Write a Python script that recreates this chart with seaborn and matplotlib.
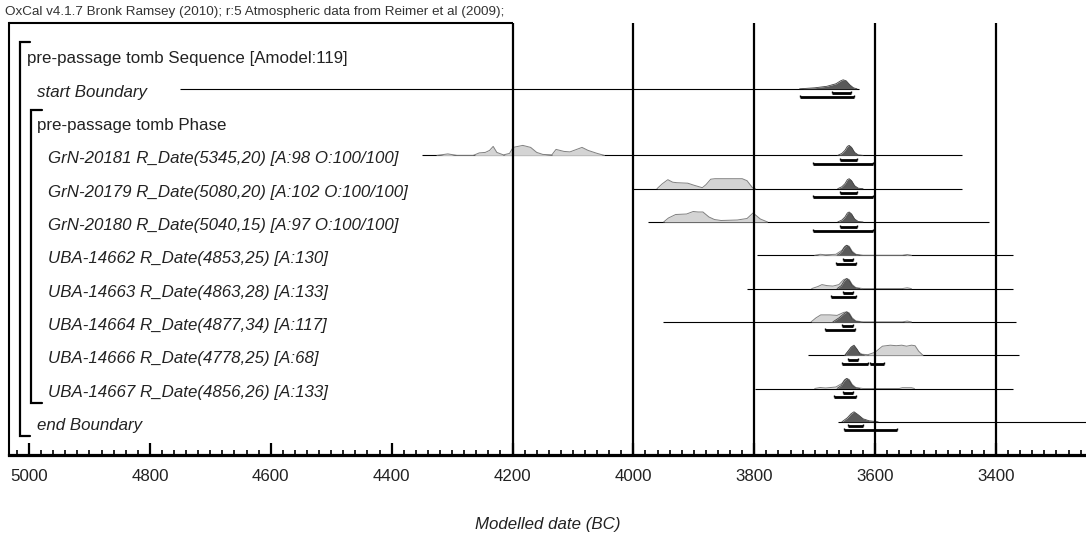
import numpy as np
import matplotlib
matplotlib.use("Agg")
import matplotlib.pyplot as plt
import matplotlib.transforms as mtransforms
import seaborn as sns

# ---------------- data ----------------
title_text = "OxCal v4.1.7 Bronk Ramsey (2010); r:5 Atmospheric data from Reimer et al (2009);"
xlabel_text = "Modelled date (BC)"
sequence_label = "pre-passage tomb Sequence [Amodel:119]"
phase_label = "pre-passage tomb Phase"

row_labels = [
    "start Boundary",
    "GrN-20181 R_Date(5345,20) [A:98 O:100/100]",
    "GrN-20179 R_Date(5080,20) [A:102 O:100/100]",
    "GrN-20180 R_Date(5040,15) [A:97 O:100/100]",
    "UBA-14662 R_Date(4853,25) [A:130]",
    "UBA-14663 R_Date(4863,28) [A:133]",
    "UBA-14664 R_Date(4877,34) [A:117]",
    "UBA-14666 R_Date(4778,25) [A:68]",
    "UBA-14667 R_Date(4856,26) [A:133]",
    "end Boundary",
]

# extent of each distribution's baseline (BC)
line_from = [4750, 4350, 4001, 3976, 3796, 3812, 3951, 3711, 3799, 3661]
line_to = [3627, 3456, 3456, 3412, 3372, 3372, 3367, 3362, 3372, 3251]

# unmodelled likelihoods (year BC, relative height)
like_start_x, like_start_h = [], []
like_grn20181_x = [4325, 4307, 4292, 4265, 4255, 4245, 4238, 4232, 4226, 4215, 4205, 4199, 4183, 4170,
                   4160, 4150, 4135, 4128, 4115, 4105, 4085, 4075, 4060, 4048]
like_grn20181_h = [0, 1.5, 0, 0, 2.5, 3, 5, 9, 3, 0.5, 2, 8, 10, 8, 3, 1, 0.5, 6, 4, 3.5, 8, 5, 2, 0]
like_grn20179_x = [3961, 3952, 3943, 3935, 3928, 3910, 3900, 3886, 3880, 3872, 3865, 3820, 3812, 3803, 3798]
like_grn20179_h = [0, 5, 9, 6.5, 6, 5.5, 3.5, 1, 4, 9.5, 10, 10, 8, 1, 0]
like_grn20180_x = [3950, 3942, 3930, 3912, 3901, 3893, 3885, 3875, 3866, 3855, 3828, 3812, 3802, 3790, 3778]
like_grn20180_h = [0, 4, 7.5, 8, 10.5, 10, 10, 5, 2.5, 1.5, 2, 3.5, 9, 3, 0]
like_uba14662_x = [3700, 3691, 3682, 3665, 3655, 3650, 3647, 3643, 3638, 3632, 3620, 3555, 3547, 3540]
like_uba14662_h = [0, 1, 0.5, 1, 5, 9, 10, 9, 4, 1, 0, 0, 0.8, 0]
like_uba14663_x = [3705, 3695, 3688, 3680, 3670, 3660, 3652, 3647, 3643, 3638, 3632, 3620, 3555, 3547, 3540]
like_uba14663_h = [0, 2, 4, 3, 2.5, 4, 9, 10, 9, 4, 1, 0, 0, 0.8, 0]
like_uba14664_x = [3706, 3698, 3690, 3675, 3663, 3652, 3647, 3643, 3638, 3632, 3620, 3555, 3547, 3540]
like_uba14664_h = [0, 4, 7, 7, 6.5, 9.5, 10, 9, 4, 1, 0, 0, 0.8, 0]
like_uba14666_x = [3650, 3643, 3637, 3630, 3622, 3612, 3600, 3588, 3575, 3565, 3556, 3548, 3540, 3534, 3528, 3521]
like_uba14666_h = [0, 5, 9, 4, 1, 0.5, 3, 9, 10, 9.5, 10, 9, 10, 9.5, 4, 0]
like_uba14667_x = [3700, 3691, 3682, 3665, 3655, 3650, 3647, 3643, 3638, 3632, 3620, 3560, 3555, 3540, 3535]
like_uba14667_h = [0, 1, 0.5, 1.5, 5, 9, 10, 9, 4, 1, 0, 0, 0.8, 0.8, 0]
like_end_x, like_end_h = [], []

# modelled posteriors (year BC, relative height)
post_start_x = [3725, 3700, 3680, 3665, 3657, 3653, 3648, 3642, 3636, 3630]
post_start_h = [0, 1, 2.5, 5, 8, 9, 8, 4, 1, 0]
post_grn20181_x = [3662, 3655, 3650, 3646, 3643, 3639, 3634, 3628, 3620]
post_grn20181_h = [0, 2, 5, 9, 10, 8, 3, 0.5, 0]
post_grn20179_x = [3662, 3655, 3650, 3646, 3643, 3639, 3634, 3628, 3620]
post_grn20179_h = [0, 2, 5, 9, 10, 8, 3, 0.5, 0]
post_grn20180_x = [3662, 3655, 3650, 3646, 3643, 3639, 3634, 3628, 3620]
post_grn20180_h = [0, 2, 5, 9, 10, 8, 3, 0.5, 0]
post_uba14662_x = [3663, 3656, 3651, 3647, 3643, 3638, 3632, 3625]
post_uba14662_h = [0, 3, 8, 10, 8, 3, 0.5, 0]
post_uba14663_x = [3663, 3656, 3651, 3647, 3643, 3638, 3632, 3625]
post_uba14663_h = [0, 3, 8, 10, 8, 3, 0.5, 0]
post_uba14664_x = [3670, 3660, 3652, 3647, 3643, 3638, 3632, 3625]
post_uba14664_h = [0, 4, 8, 10, 8, 3, 0.5, 0]
post_uba14666_x = [3650, 3645, 3640, 3635, 3630, 3625, 3618]
post_uba14666_h = [0, 4, 8, 10, 6, 1, 0]
post_uba14667_x = [3663, 3656, 3651, 3647, 3643, 3638, 3632, 3625]
post_uba14667_h = [0, 3, 8, 10, 8, 3, 0.5, 0]
post_end_x = [3655, 3646, 3640, 3635, 3628, 3620, 3610, 3595]
post_end_h = [0, 4, 8, 10, 7, 3, 1, 0]

# highest posterior density ranges (from, to) BC
r68_ranges = [
    [(3671, 3640)], [(3658, 3630)], [(3658, 3630)], [(3658, 3630)], [(3653, 3637)],
    [(3653, 3637)], [(3655, 3637)], [(3645, 3628)], [(3653, 3637)], [(3645, 3620)],
]
r95_ranges = [
    [(3724, 3635)], [(3703, 3604)], [(3703, 3604)], [(3703, 3604)], [(3665, 3632)],
    [(3673, 3632)], [(3683, 3633)], [(3655, 3612), (3609, 3585)], [(3668, 3632)], [(3652, 3564)],
]

major_ticks = [5000, 4800, 4600, 4400, 4200, 4000, 3800, 3600, 3400]
grid_years = [4200, 4000, 3800, 3600, 3400]

like_x = [like_start_x, like_grn20181_x, like_grn20179_x, like_grn20180_x, like_uba14662_x,
          like_uba14663_x, like_uba14664_x, like_uba14666_x, like_uba14667_x, like_end_x]
like_h = [like_start_h, like_grn20181_h, like_grn20179_h, like_grn20180_h, like_uba14662_h,
          like_uba14663_h, like_uba14664_h, like_uba14666_h, like_uba14667_h, like_end_h]
post_x = [post_start_x, post_grn20181_x, post_grn20179_x, post_grn20180_x, post_uba14662_x,
          post_uba14663_x, post_uba14664_x, post_uba14666_x, post_uba14667_x, post_end_x]
post_h = [post_start_h, post_grn20181_h, post_grn20179_h, post_grn20180_h, post_uba14662_h,
          post_uba14663_h, post_uba14664_h, post_uba14666_h, post_uba14667_h, post_end_h]

# ---------------- style / layout ----------------
sns.set_style("white")
plt.rcParams['font.family'] = ['Liberation Sans', 'DejaVu Sans']
plt.rcParams['text.color'] = '#222222'

W, H = 1086, 533
FS = 12.2
fig = plt.figure(figsize=(W / 100, H / 100), dpi=100)
AX_LEFT_PX, AX_BOTTOM_PX = 9, 455
ax = fig.add_axes([AX_LEFT_PX / W, (H - AX_BOTTOM_PX) / H, 1 - AX_LEFT_PX / W, AX_BOTTOM_PX / H])

px_per_year = 0.6044
x_left = 5000 + (29 - AX_LEFT_PX) / px_per_year
x_right = 5000 - (W - 29) / px_per_year
ax.set_xlim(x_left, x_right)
ax.set_ylim(AX_BOTTOM_PX, 0)   # y in pixels from the top of the figure

for s in ['top', 'right']:
    ax.spines[s].set_visible(False)
ax.spines['left'].set_bounds(23, AX_BOTTOM_PX)
ax.spines['left'].set_linewidth(1.5)
ax.spines['left'].set_color('black')
ax.spines['bottom'].set_linewidth(2.3)
ax.spines['bottom'].set_color('black')
ax.set_yticks([])

ax.set_xticks(major_ticks)
ax.set_xticklabels([str(t) for t in major_ticks])
ax.set_xticks(np.arange(5020, 3250, -20), minor=True)
ax.tick_params(axis='x', which='both', bottom=True, top=False)
ax.tick_params(axis='x', which='major', direction='in', length=9, width=1.6,
               labelsize=FS, pad=10, color='black', labelcolor='#222222')
ax.tick_params(axis='x', which='minor', direction='in', length=3.8, width=1.2, color='black')
ax.set_xlabel(xlabel_text, fontsize=FS, style='italic', labelpad=24, color='#222222')

# grid / frame
ax.vlines(grid_years, 23, AX_BOTTOM_PX, color='black', lw=1.6, zorder=5)
ax.hlines(23, x_left, 4200, color='black', lw=1.5, zorder=5)

fig.text(5 / W, 1 - 12 / H, title_text, fontsize=9.7, va='center', ha='left', color='#333333')

tx = mtransforms.blended_transform_factory(fig.transFigure, ax.transData)
row_step = 33.3
first_row = 59.0
text_y = [first_row + row_step * i for i in range(12)]
ax.text(27 / W, text_y[0], sequence_label, transform=tx, fontsize=FS, va='center', ha='left')
ax.text(37 / W, text_y[2], phase_label, transform=tx, fontsize=FS, va='center', ha='left')
row_text_idx = [1, 3, 4, 5, 6, 7, 8, 9, 10, 11]
row_text_x = [37, 48, 48, 48, 48, 48, 48, 48, 48, 37]

# brackets
ax.plot([30 / W, 20 / W, 20 / W, 30 / W], [42, 42, 436, 436], transform=tx, color='black',
        lw=1.6, solid_joinstyle='miter')
ax.plot([42 / W, 31 / W, 31 / W, 42 / W], [110, 110, 403, 403], transform=tx, color='black',
        lw=1.6, solid_joinstyle='miter')

for i, lab in enumerate(row_labels):
    ty = text_y[row_text_idx[i]]
    ax.text(row_text_x[i] / W, ty, lab, transform=tx, fontsize=FS, style='italic',
            va='center', ha='left')
    base = ty - 3.5
    ax.hlines(base, line_from[i], line_to[i], color='black', lw=0.8, zorder=2)
    if len(like_x[i]):
        lx = np.array(like_x[i], float)
        lh = np.array(like_h[i], float)
        ax.fill_between(lx, base - lh, base, color='#d4d4d4', lw=0, zorder=3)
        sns.lineplot(x=lx, y=base - lh, ax=ax, color='#808080', lw=0.7, sort=False,
                     estimator=None, zorder=3)
    px_ = np.array(post_x[i], float)
    ph = np.array(post_h[i], float)
    ax.fill_between(px_, base - ph, base, color='#5a5a5a', lw=0, zorder=4)
    sns.lineplot(x=px_, y=base - ph, ax=ax, color='#404040', lw=0.6, sort=False,
                 estimator=None, zorder=4)
    for (a, b) in r68_ranges[i]:
        ax.hlines(base + 4.5, a, b, color='black', lw=2.0, zorder=4)
        ax.vlines([a, b], base + 2.5, base + 4.5, color='black', lw=1.0, zorder=4)
    for (a, b) in r95_ranges[i]:
        ax.hlines(base + 8.5, a, b, color='black', lw=2.0, zorder=4)
        ax.vlines([a, b], base + 6.5, base + 8.5, color='black', lw=1.0, zorder=4)

fig.savefig("out.png", dpi=100)
